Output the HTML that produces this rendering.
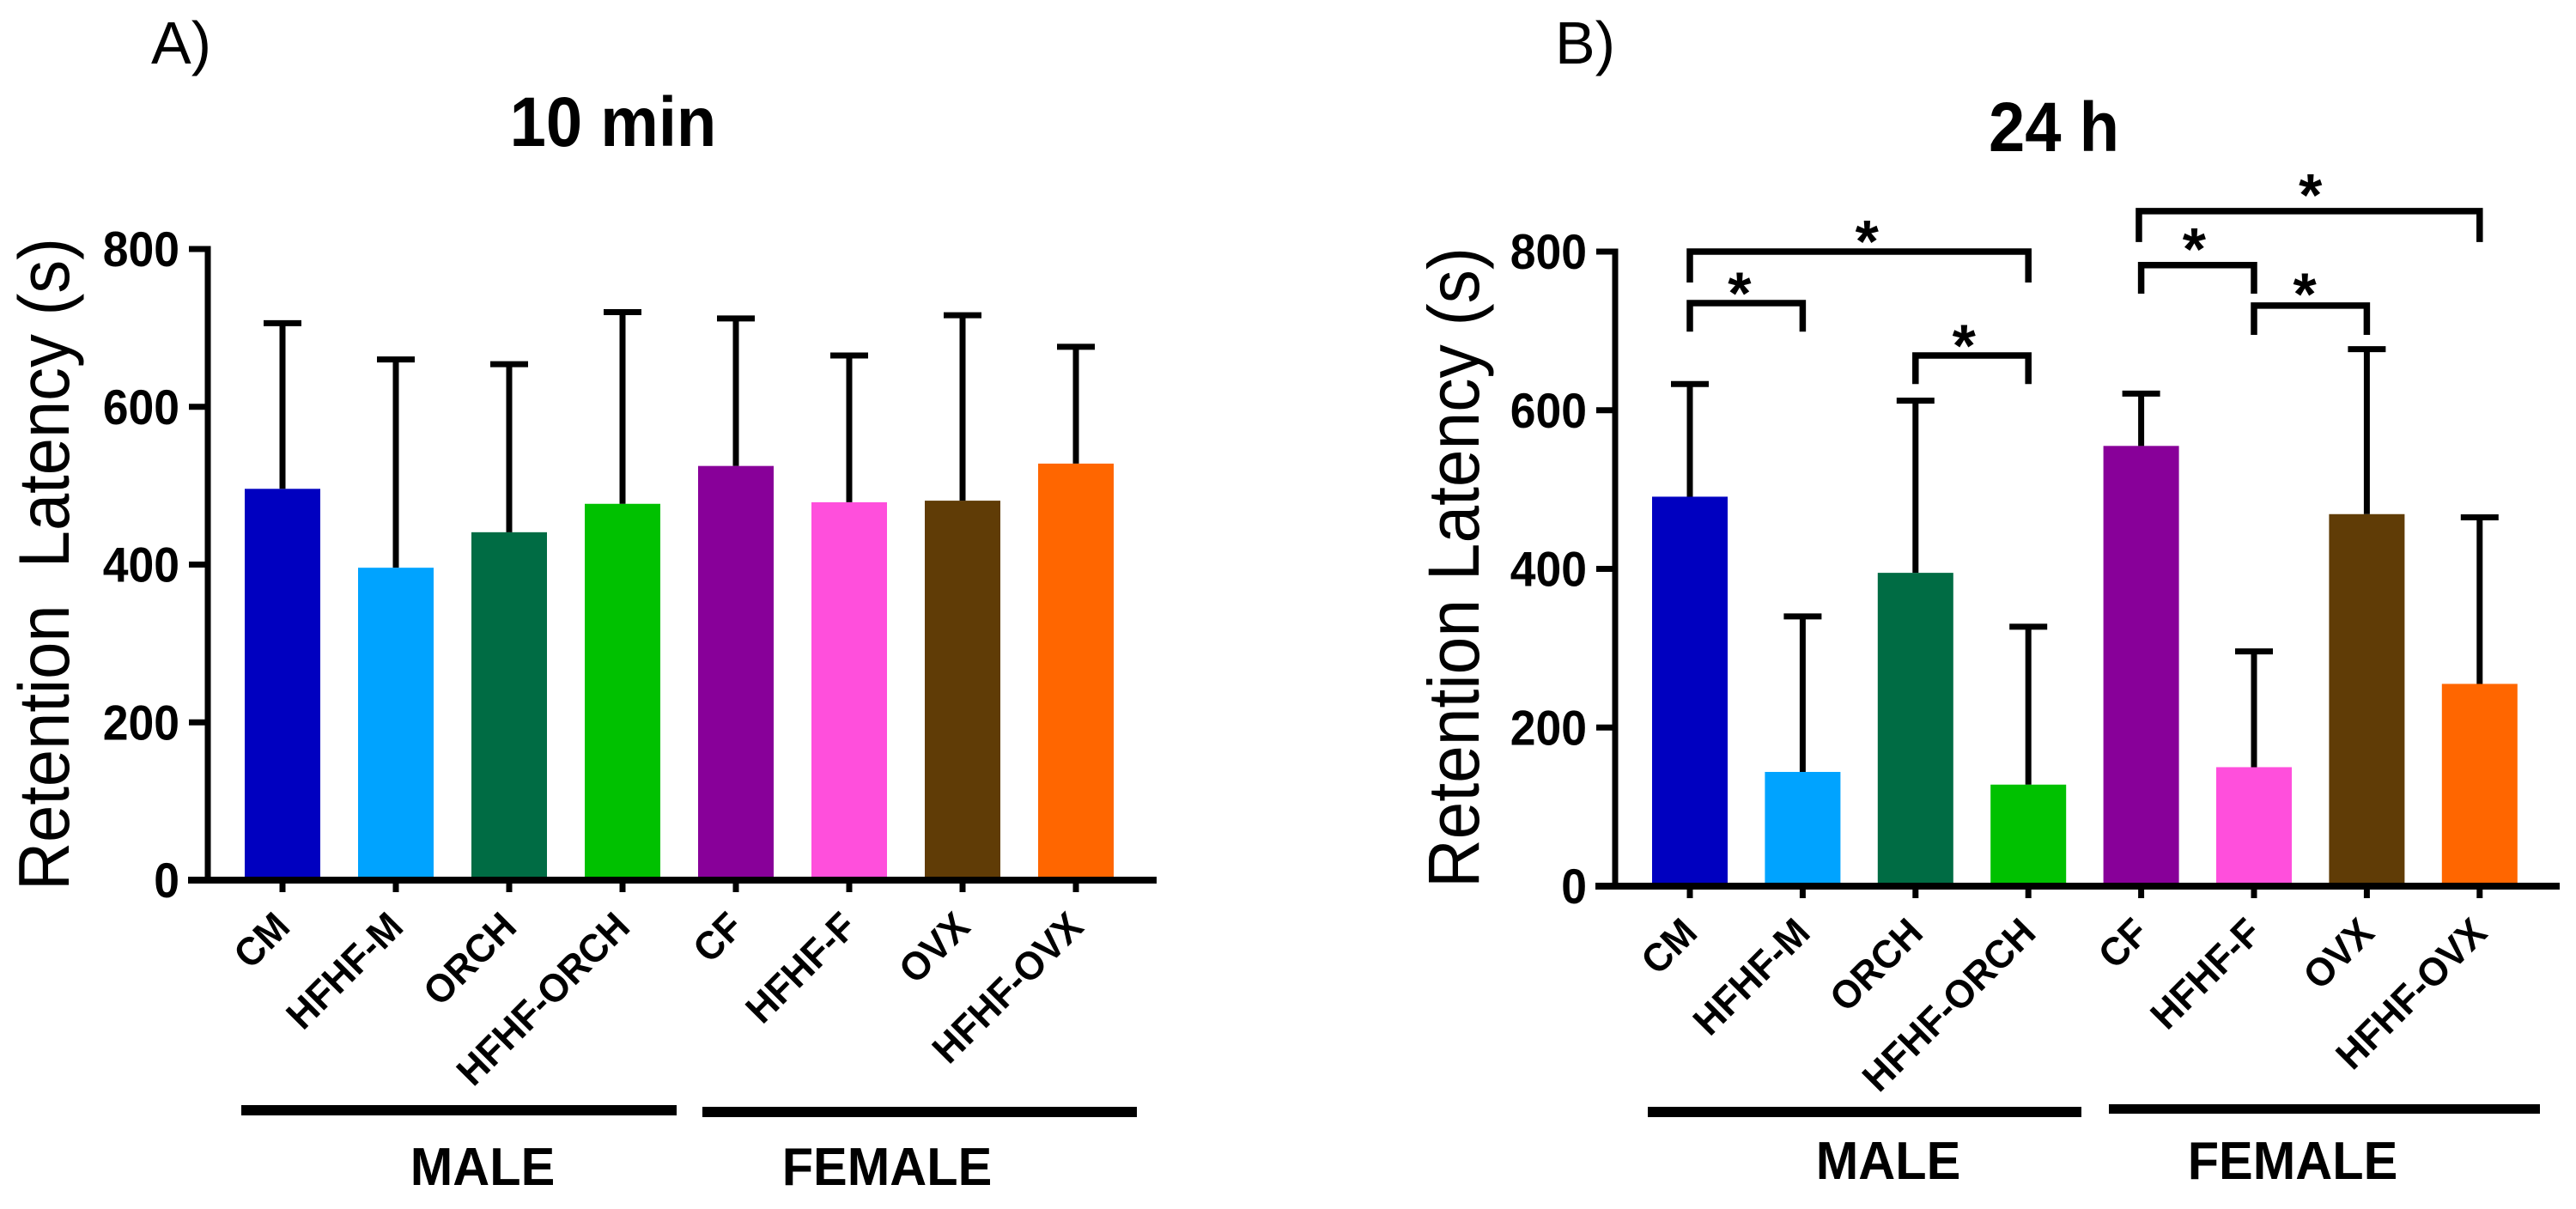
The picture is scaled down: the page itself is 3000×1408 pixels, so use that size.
<!DOCTYPE html>
<html lang="en">
<head>
<meta charset="utf-8">
<title>Retention Latency at 10 min and 24 h</title>
<style>
html,body{margin:0;padding:0;background:#fff;}
svg{display:block;font-family:"Liberation Sans",Arial,sans-serif;}
</style>
</head>
<body>
<svg id="figure" xmlns="http://www.w3.org/2000/svg" width="3000" height="1408" viewBox="0 0 3000 1408">
  <rect x="0" y="0" width="3000" height="1408" fill="#ffffff"/>
  <text x="176" y="74" font-size="70" fill="#000">A)</text>
  <text x="1811" y="74" font-size="70" fill="#000">B)</text>
  <text transform="translate(714,170) scale(1,1.08)" text-anchor="middle" font-size="76" font-weight="bold">10 min</text>
  <text transform="translate(2392,176) scale(1,1.08)" text-anchor="middle" font-size="76" font-weight="bold">24 h</text>
  <text transform="translate(80,1037) rotate(-90) scale(1,1.08)" font-size="77.7" xml:space="preserve">Retention  Latency (s)</text>
  <text transform="translate(1722,1034) rotate(-90) scale(1,1.08)" font-size="78.5">Retention Latency (s)</text>
  <rect x="281" y="1287" width="507" height="12" fill="#000"/>
  <rect x="818" y="1289" width="506" height="12" fill="#000"/>
  <rect x="1919" y="1289" width="505" height="12" fill="#000"/>
  <rect x="2456" y="1286" width="502" height="11" fill="#000"/>
  <text transform="translate(562,1380) scale(1,1.05)" text-anchor="middle" font-size="59.5" font-weight="bold">MALE</text>
  <text transform="translate(1033,1380) scale(1,1.05)" text-anchor="middle" font-size="59.5" font-weight="bold">FEMALE</text>
  <text transform="translate(2199,1373) scale(1,1.05)" text-anchor="middle" font-size="59.5" font-weight="bold">MALE</text>
  <text transform="translate(2670,1373) scale(1,1.05)" text-anchor="middle" font-size="59.5" font-weight="bold">FEMALE</text>
</svg>
<script>
var categories = ['CM', 'HFHF-M', 'ORCH', 'HFHF-ORCH', 'CF', 'HFHF-F', 'OVX', 'HFHF-OVX'];
var barColors = ['#0000c0', '#00a3ff', '#006c44', '#00c100', '#880099', '#ff4fdc', '#603c06', '#ff6600'];
var yTicks = [0, 200, 400, 600, 800];

var means10min = [496, 396, 441, 477, 525, 479, 481, 528];
var errorTops10min = [706, 660, 654, 720, 712, 665, 716, 676];

var means24h = [491, 144, 395, 128, 555, 150, 469, 255];
var errorTops24h = [633, 340, 612, 327, 621, 296, 677, 465];

/* significance brackets of the 24 h panel: category positions and axis values */
var bracketFrom = [0, 0, 2, 3.98, 4, 5];
var bracketTo = [3, 1, 3, 7, 5, 6];
var bracketLevel = [800, 735, 669, 851, 783, 732];
var bracketFoot = [761, 699, 633, 812, 747, 695];
var bracketStar = [1.57, 0.44, 2.43, 5.5, 4.47, 5.45];
var bracketStarLevel = [823, 757, 691, 881, 813, 756];

var svg = document.getElementById('figure');
var NS = 'http://www.w3.org/2000/svg';

function make(tag, attrs, parent) {
  var el = document.createElementNS(NS, tag);
  for (var k in attrs) { el.setAttribute(k, attrs[k]); }
  parent.appendChild(el);
  return el;
}

function drawPanel(prefix, means, errorTops, frame) {
  var g = make('g', {}, svg);
  
  

  function x(i) { return frame.x0 + frame.step * i; }
  function y(v) { return frame.y0 - (frame.y0 - frame.y800) * v / 800; }

  categories.forEach(function (cat, i) {
    var bar = make('rect', {x: x(i) - 44, y: y(means[i]), width: 88, height: y(0) - y(means[i]), fill: barColors[i]}, g);
    
    

    var stem = make('line', {x1: x(i), x2: x(i), y1: y(means[i]), y2: y(errorTops[i]), stroke: '#000', 'stroke-width': 7}, g);
    
    

    var cap = make('line', {x1: x(i) - 22, x2: x(i) + 22, y1: y(errorTops[i]), y2: y(errorTops[i]), stroke: '#000', 'stroke-width': 7}, g);
    
    

    var tick = make('line', {x1: x(i), x2: x(i), y1: y(0), y2: y(0) + 14, stroke: '#000', 'stroke-width': 7}, g);
    
    

    var label = make('text', {
      transform: 'translate(' + (x(i) + 11) + ',' + (y(0) + 57) + ') rotate(-45) scale(1,1.05)',
      'text-anchor': 'end', 'font-size': 44, 'font-weight': 'bold'
    }, g);
    label.textContent = cat;
    
    
  });

  var yAxis = make('line', {x1: frame.axisX, x2: frame.axisX, y1: y(800) - 3.5, y2: y(0), stroke: '#000', 'stroke-width': 7}, g);
  
  

  var xAxis = make('line', {x1: frame.axisX - 23, x2: frame.xEnd, y1: y(0), y2: y(0), stroke: '#000', 'stroke-width': 8}, g);
  
  

  yTicks.forEach(function (t) {
    if (t > 0) {
      var mark = make('line', {x1: frame.axisX - 22, x2: frame.axisX, y1: y(t), y2: y(t), stroke: '#000', 'stroke-width': 7}, g);
      
      
    }
    var txt = make('text', {
      transform: 'translate(' + (frame.axisX - 33) + ',' + (y(t) + 20) + ') scale(1,1.08)',
      'text-anchor': 'end', 'font-size': 53.5, 'font-weight': 'bold'
    }, g);
    txt.textContent = String(t);
    
    
  });

  return {x: x, y: y, g: g};
}

var panelA = drawPanel('panel-a', means10min, errorTops10min, {x0: 329, step: 132, y0: 1025, y800: 290, axisX: 242, xEnd: 1347});
var panelB = drawPanel('panel-b', means24h, errorTops24h, {x0: 1968, step: 131.4, y0: 1032, y800: 293, axisX: 1881, xEnd: 2981});

bracketLevel.forEach(function (level, i) {
  var xa = panelB.x(bracketFrom[i]);
  var xb = panelB.x(bracketTo[i]);
  var yt = panelB.y(level);
  var yf = panelB.y(bracketFoot[i]);
  var path = make('path', {
    d: 'M' + xa + ' ' + yf + 'V' + yt + 'H' + xb + 'V' + yf,
    fill: 'none', stroke: '#000', 'stroke-width': 7.5
  }, panelB.g);
  
  

  var star = make('text', {
    x: panelB.x(bracketStar[i]), y: panelB.y(bracketStarLevel[i]) + 33,
    'text-anchor': 'middle', 'font-size': 70, 'font-weight': 'bold'
  }, panelB.g);
  star.textContent = '*';
  
  
});
</script>
</body>
</html>
